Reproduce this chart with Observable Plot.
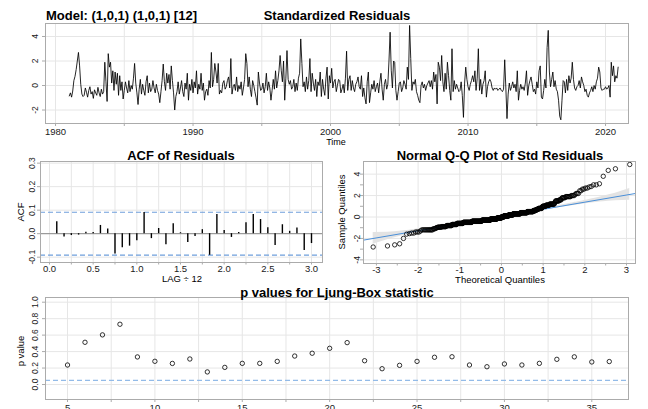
<!DOCTYPE html>
<html><head><meta charset="utf-8">
<script src="https://cdn.jsdelivr.net/npm/d3@7"></script>
<script src="https://cdn.jsdelivr.net/npm/@observablehq/plot@0.6"></script>
<style>
html,body{margin:0;padding:0;overflow:hidden;background:#fff;}
#root{position:relative;width:648px;height:409px;overflow:hidden;font-family:"Liberation Sans",Arial,sans-serif;}
.panel{position:absolute;}
.t{position:absolute;white-space:nowrap;color:#000;line-height:1;}
.title{font-weight:bold;font-size:13px;}
.lab{font-size:9.5px;}
</style></head><body><div id="root"></div>
<script>
// ---------- data ----------
const modelLabel = "Model: (1,0,1) (1,0,1) [12]";
const startYear = 1981, frequency = 12;
const stdResiduals = [
 -0.85,-0.6,-0.95,-0.45,0.4,0.75,1.3,2.0,2.7,1.6,0.1,-0.7,
 -0.9,-0.8,-0.2,-0.55,-0.95,-0.4,-0.1,-0.7,-0.5,-1.05,-0.35,-0.6,
 -0.8,-0.15,-0.6,-0.9,-0.3,-0.7,-0.5,1.9,0.3,-1.3,2.6,1.5,
 1.9,0.2,1.2,-0.4,1.1,0.1,1.0,-0.8,0.8,-0.4,0.3,-1.1,
 -0.4,0.3,-0.2,-0.6,0.4,-0.5,0.0,-0.3,0.6,1.8,0.2,-0.6,
 -1.55,-0.3,0.5,-0.7,0.1,-0.4,-0.8,0.3,0.8,-0.6,0.2,-0.5,
 -0.3,0.4,-0.2,-0.6,0.1,-0.4,-0.7,-1.4,-0.5,0.4,1.75,0.3,
 -0.4,1.0,0.2,0.9,-0.3,1.6,0.4,-0.6,-2.0,-0.9,-0.5,0.3,
 -0.7,-0.2,0.4,-0.5,-0.9,0.2,-0.3,1.0,-1.2,0.1,-0.4,0.5,
 -0.6,0.3,-0.2,1.2,-0.7,0.1,-0.3,1.0,-0.4,0.2,-1.2,-0.5,
 -0.3,-0.8,0.4,-0.2,2.7,-0.1,0.5,1.8,1.1,0.2,1.8,-0.7,
 -0.4,-0.6,0.2,0.4,-0.3,-0.1,0.4,0.7,-0.2,2.2,-0.7,-0.1,
 0.1,-0.4,0.7,-0.5,0.0,-0.3,0.3,-0.8,-0.2,0.5,2.6,1.8,
 -0.1,0.7,-0.3,-0.9,0.4,0.0,-0.5,-1.0,-1.6,1.1,0.2,-0.4,
 -0.3,0.2,-0.6,-0.1,1.0,-0.4,0.3,-0.2,-1.2,-0.4,0.5,-0.3,
 1.2,-0.2,0.4,1.2,2.45,1.2,0.3,2.0,-1.2,0.6,2.85,0.5,
 0.1,0.4,-0.3,-0.1,0.5,-0.5,0.2,-0.4,0.6,1.0,3.8,1.8,
 -0.1,0.3,-0.5,0.7,-0.3,0.4,2.2,-0.5,1.0,0.2,-0.4,0.5,
 -0.9,0.3,0.0,1.1,-0.9,0.5,-0.3,-0.8,0.6,1.5,-1.1,0.8,
 0.2,1.4,-0.2,0.3,0.5,-0.5,0.0,0.5,0.4,-0.6,-0.3,0.1,
 -0.6,0.6,2.8,-0.4,0.5,0.8,-0.4,0.4,-0.2,-0.5,0.1,0.3,
 0.7,-0.1,-0.3,0.8,-0.9,-0.2,-1.0,-1.5,0.3,1.1,-1.4,-0.6,
 0.1,-0.3,0.4,-0.5,-0.1,0.2,-0.6,0.3,1.0,-0.3,-1.2,0.1,
 0.5,-0.3,0.1,2.0,4.35,1.2,-0.2,2.0,1.9,-0.4,-1.2,-0.5,
 0.2,0.3,-0.5,-0.2,0.4,0.1,-0.3,1.5,0.5,4.9,2.2,-0.4,
 0.3,0.1,0.5,-0.5,-0.8,-1.2,-1.4,0.0,0.3,-0.2,0.1,-0.4,
 0.0,0.2,0.4,-0.1,0.4,-0.3,1.1,0.3,0.9,-1.5,1.9,1.5,
 0.4,2.45,0.3,-0.5,1.0,-0.3,1.9,0.8,-0.4,-1.2,3.0,-0.5,
 0.4,-0.3,0.1,-0.2,-0.5,-0.4,0.3,-0.8,-2.6,0.2,1.5,0.5,
 -0.1,-0.4,0.1,0.4,0.8,0.3,1.2,-0.4,0.6,3.0,-0.4,0.5,
 -0.7,0.1,0.4,1.2,-0.95,-0.1,0.3,0.5,0.3,-0.2,-0.4,-0.2,
 -0.3,-0.2,-0.4,-0.3,-0.2,-0.4,-0.5,-0.3,2.1,-0.2,-2.7,-0.7,
 0.2,-0.4,-0.1,0.3,-0.2,0.1,-0.5,1.2,-1.2,-0.4,0.1,-0.3,
 -0.1,-0.4,0.2,1.2,-0.8,0.0,0.4,0.7,0.1,-0.5,-0.3,-0.7,
 0.3,-0.2,1.2,1.6,-0.95,-1.1,-0.4,0.5,-0.2,3.1,4.5,1.1,
 -0.1,0.5,1.1,-0.1,0.4,-0.3,-0.5,-1.2,-2.5,-2.8,-1.2,0.4,
 0.3,-0.6,0.5,-0.4,0.8,0.2,0.6,1.9,0.5,-0.2,-0.4,-0.1,
 0.0,0.4,-0.2,0.7,0.3,0.0,-0.5,-0.3,-0.8,-0.95,-0.6,-0.4,
 -0.1,-0.5,0.0,-0.3,0.3,0.6,1.5,1.1,-0.2,-0.4,-0.3,-0.3,
 -0.1,-0.3,-0.2,0.0,-0.95,1.9,0.8,1.6,0.3,0.8,0.6,1.5
];
// ACF of residuals, lags 1..36 (in units of LAG/12)
const acfValues = [0.051,-0.014,-0.008,-0.006,0.006,0.005,0.035,0.02,-0.086,-0.06,-0.053,-0.03,
 0.09,-0.021,0.022,-0.047,0.042,0.004,-0.038,-0.012,0.017,-0.092,0.082,0.014,
 -0.016,0.005,0.047,0.082,0.06,0.025,-0.05,0.038,0.01,0.024,-0.072,-0.042];
// Ljung-Box p-values, lags 5..36
const lbLags = d3.range(5, 37);
const lbPvalues = [0.237,0.513,0.603,0.732,0.335,0.282,0.256,0.31,0.153,0.208,0.257,0.257,0.281,0.346,0.38,0.44,0.509,0.289,0.192,0.233,0.281,0.331,0.337,0.237,0.216,0.25,0.237,0.257,0.306,0.336,0.274,0.279];
const yearTicks = [1980,1990,2000,2010,2020];
const yearMinor = [1985,1995,2005,2015];
const acfLagTicks = [0,0.5,1,1.5,2,2.5,3];
const acfYTicks = [-0.1,0,0.1,0.2,0.3];
const qqXTicks = [-3,-2,-1,0,1,2,3];
const qqYTicks = [-4,-2,0,2,4];
const pTicksY = [0,0.2,0.4,0.6,0.8,1.0];
const pTicksX = [5,10,15,20,25,30,35];

// ---------- helpers ----------
const FONT = "'Liberation Sans', Arial, sans-serif";
const GRID = "#e6e6e6", FRAME = "#ababab", BLUE = "#6f9fdc", LBLUE = "#93bbe8", TXT = "#1a1a1a";
const YFS = 8.5; // rotated y tick label size
const root = document.getElementById("root");
function place(svg, left, top, w){ const d=document.createElement("div"); d.className="panel"; d.style.left=left+"px"; d.style.top=top+"px"; d.style.width=w+"px"; d.appendChild(svg); root.appendChild(d); }
function txt(s, x, y, cls, opt={}){ const d=document.createElement("div"); d.className="t "+cls; d.textContent=s;
  d.style.left=x+"px"; d.style.top=y+"px";
  if (opt.rotate) { d.style.transformOrigin = "0 0"; d.style.transform = `rotate(${opt.rotate}deg) translate(-50%,-50%)`; }
  else d.style.transform = `translate(${opt.anchor==="start" ? "0" : "-50%"},-50%)`;
  if (opt.size) d.style.fontSize = opt.size+"px";
  root.appendChild(d); }
const style = {fontFamily: FONT, fontSize: "9.5px", color: TXT, background: "transparent", overflow: "visible"};
function qnorm(p){
 const a=[-3.969683028665376e+01,2.209460984245205e+02,-2.759285104469687e+02,1.383577518672690e+02,-3.066479806614716e+01,2.506628277459239e+00];
 const b=[-5.447609879822406e+01,1.615858368580409e+02,-1.556989798598866e+02,6.680131188771972e+01,-1.328068155288572e+01];
 const c=[-7.784894002430293e-03,-3.223964580411365e-01,-2.400758277161838e+00,-2.549732539343734e+00,4.374664141464968e+00,2.938163982698783e+00];
 const d=[7.784695709041462e-03,3.224671290700398e-01,2.445134137142996e+00,3.754408661907416e+00];
 const pl=0.02425, ph=1-pl; let q,r;
 if(p<pl){q=Math.sqrt(-2*Math.log(p));return (((((c[0]*q+c[1])*q+c[2])*q+c[3])*q+c[4])*q+c[5])/((((d[0]*q+d[1])*q+d[2])*q+d[3])*q+1);}
 if(p>ph){q=Math.sqrt(-2*Math.log(1-p));return -(((((c[0]*q+c[1])*q+c[2])*q+c[3])*q+c[4])*q+c[5])/((((d[0]*q+d[1])*q+d[2])*q+d[3])*q+1);}
 q=p-0.5;r=q*q;return (((((a[0]*r+a[1])*r+a[2])*r+a[3])*r+a[4])*r+a[5])*q/(((((b[0]*r+b[1])*r+b[2])*r+b[3])*r+b[4])*r+1);
}
const dnorm = x => Math.exp(-x*x/2)/Math.sqrt(2*Math.PI);

// ---------- panel 1: standardized residuals ----------
const series = stdResiduals.map((v,i)=>({t: startYear + i/frequency, v}));
const p1 = Plot.plot({
  width:648, height:150, marginTop:23, marginBottom:27, marginLeft:45, marginRight:20, style,
  x:{domain:[1979.27,2021.67]}, y:{domain:[-3.1,5.06]},
  marks:[
    Plot.gridX([...yearTicks,...yearMinor],{stroke:GRID,strokeOpacity:1}),
    Plot.gridY([-2,0,2,4],{stroke:GRID,strokeOpacity:1}),
    Plot.line(series,{x:"t",y:"v",stroke:"#000",strokeWidth:0.85}),
    Plot.frame({stroke:FRAME}),
    Plot.axisX(yearTicks,{tickSize:3,tickPadding:2,tickFormat:d=>String(d),stroke:FRAME,label:null,fontSize:9.5}),
    Plot.axisX(yearMinor,{tickSize:3,tickFormat:()=>"",stroke:FRAME,label:null}),
    Plot.axisY([-2,0,2,4],{tickRotate:-90,tickSize:3,tickPadding:5,tickFormat:d=>String(d),stroke:FRAME,label:null,fontSize:YFS})
  ]});
place(p1,0,0,648);

// ---------- panel 2: ACF ----------
const acfData = acfValues.map((a,i)=>({lag:(i+1)/12, acf:a}));
const ci = 2/Math.sqrt(stdResiduals.length);
const p2 = Plot.plot({
  width:330, height:140, marginTop:21, marginBottom:18, marginLeft:40, marginRight:8, style,
  x:{domain:[-0.103,3.126]}, y:{domain:[-0.1226,0.307]},
  marks:[
    Plot.gridX(d3.range(0,13).map(i=>i*0.25),{stroke:GRID,strokeOpacity:1}),
    Plot.gridY(acfYTicks,{stroke:GRID,strokeOpacity:1}),
    Plot.ruleY([0],{stroke:"#8a8a8a",strokeWidth:1}),
    Plot.ruleY([ci,-ci],{stroke:BLUE,strokeDasharray:"5,3",strokeWidth:1.1}),
    Plot.ruleX(acfData,{x:"lag",y1:0,y2:"acf",stroke:"#000",strokeWidth:1.4}),
    Plot.frame({stroke:FRAME}),
    Plot.axisX(acfLagTicks,{tickSize:2.5,tickPadding:0,tickFormat:d=>d.toFixed(1),stroke:FRAME,label:null}),
    Plot.axisX(d3.range(0,6).map(i=>0.25+i*0.5),{tickSize:2.5,tickFormat:()=>"",stroke:FRAME,label:null}),
    Plot.axisY(acfYTicks,{tickRotate:-90,tickSize:3,tickPadding:2.3,tickFormat:d=>d.toFixed(1),stroke:FRAME,label:null,fontSize:YFS})
  ]});
place(p2,0,140,330);

// ---------- panel 3: Normal Q-Q ----------
const n = stdResiduals.length;
const sorted = stdResiduals.slice().sort(d3.ascending);
const qq = sorted.map((s,i)=>{const pp=(i+0.5)/n; return {pp, z:qnorm(pp), s};});
const yq = [d3.quantile(sorted,0.25), d3.quantile(sorted,0.75)];
const xq = [qnorm(0.25), qnorm(0.75)];
const slope = (yq[1]-yq[0])/(xq[1]-xq[0]);
const inter = yq[0]-slope*xq[0];
const zz = qnorm(0.975);
const band = qq.map(d=>{const se=(slope/dnorm(d.z))*Math.sqrt(d.pp*(1-d.pp)/n); const f=inter+slope*d.z; return {z:d.z, lo:f-zz*se, hi:f+zz*se};});
const qqXDomain = [-3.31,3.216];
const qqLine = qqXDomain.map(x=>({x, y:inter+slope*x}));
const p3 = Plot.plot({
  width:318, height:140, marginTop:21, marginBottom:17, marginLeft:33, marginRight:13, style,
  x:{domain:qqXDomain}, y:{domain:[-4.34,5.18]},
  marks:[
    Plot.gridX(qqXTicks,{stroke:GRID,strokeOpacity:1}),
    Plot.gridY(qqYTicks,{stroke:GRID,strokeOpacity:1}),
    Plot.areaY(band,{x:"z",y1:"lo",y2:"hi",fill:"#e3e3e3",clip:true}),
    Plot.line(qqLine,{x:"x",y:"y",stroke:"#4a8fd8",strokeWidth:1,clip:true}),
    Plot.dot(qq,{x:"z",y:"s",r:2.2,stroke:"#000",strokeWidth:0.8,fill:"none"}),
    Plot.frame({stroke:FRAME}),
    Plot.axisX(qqXTicks,{tickSize:2.5,tickPadding:0,tickFormat:d=>String(d),stroke:FRAME,label:null}),
    Plot.axisX([-2.5,-1.5,-0.5,0.5,1.5,2.5],{tickSize:2.5,tickFormat:()=>"",stroke:FRAME,label:null}),
    Plot.axisY(qqYTicks,{tickRotate:-90,tickSize:3,tickPadding:0.5,tickFormat:d=>String(d),stroke:FRAME,label:null,fontSize:YFS}),
    Plot.axisY([-3,-1,1,3],{tickSize:3,tickFormat:()=>"",stroke:FRAME,label:null})
  ]});
place(p3,330,140,318);

// ---------- panel 4: Ljung-Box p values ----------
const lb = lbLags.map((l,i)=>({lag:l, p:lbPvalues[i]}));
const p4 = Plot.plot({
  width:648, height:135, marginTop:12, marginBottom:21, marginLeft:45, marginRight:20, style,
  x:{domain:[3.74,37.1]}, y:{domain:[-0.182,1.057]},
  marks:[
    Plot.gridX(d3.range(0,13).map(i=>5+i*2.5),{stroke:GRID,strokeOpacity:1}),
    Plot.gridY(pTicksY,{stroke:GRID,strokeOpacity:1}),
    Plot.ruleY([0.05],{stroke:LBLUE,strokeDasharray:"5,3",strokeWidth:1.2}),
    Plot.dot(lb,{x:"lag",y:"p",r:2.2,stroke:"#000",strokeWidth:0.8,fill:"none"}),
    Plot.frame({stroke:FRAME}),
    Plot.axisX(pTicksX,{tickSize:3,tickPadding:2,tickFormat:d=>String(d),stroke:FRAME,label:null}),
    Plot.axisX(d3.range(0,6).map(i=>7.5+i*5),{tickSize:3,tickFormat:()=>"",stroke:FRAME,label:null}),
    Plot.axisY(pTicksY,{tickRotate:-90,tickSize:3,tickPadding:5,tickFormat:d=>d.toFixed(1),stroke:FRAME,label:null,fontSize:YFS})
  ]});
place(p4,0,285,648);

// ---------- titles and axis labels ----------
txt(modelLabel, 46, 15, "title", {anchor:"start"});
txt("Standardized Residuals", 337, 15, "title");
txt("Time", 336, 141.5, "lab", {size:9});
txt("ACF of Residuals", 181, 154.5, "title");
txt("ACF", 21, 212, "lab", {rotate:-90});
txt("LAG \u00f7 12", 182, 279, "lab");
txt("Normal Q-Q Plot of Std Residuals", 500, 154.5, "title");
txt("Sample Quantiles", 342, 212, "lab", {rotate:-90});
txt("Theoretical Quantiles", 500, 279.5, "lab");
txt("p values for Ljung-Box statistic", 337, 292, "title");
txt("p value", 21, 351, "lab", {rotate:-90});
</script></body></html>
